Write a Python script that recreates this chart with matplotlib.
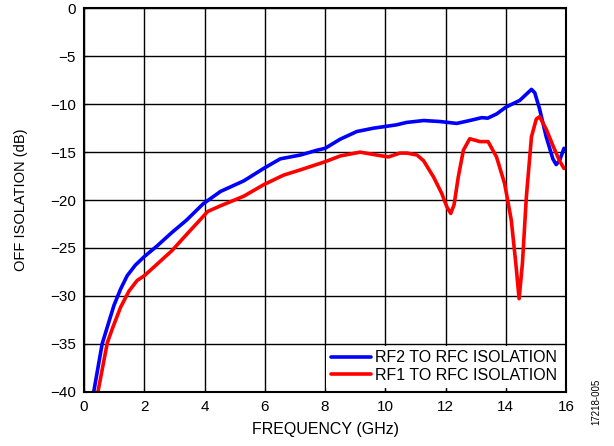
import numpy as np
import matplotlib
matplotlib.use('Agg')
import matplotlib.pyplot as plt

plt.rcParams['font.family'] = ['Liberation Sans', 'DejaVu Sans']

# RF2 -> RFC isolation (blue)
rf2Freq = [0.32, 0.6, 0.99, 1.21, 1.43, 1.7, 2.0, 2.42, 2.91, 3.4, 3.95, 4.53, 5.3, 5.96,
	6.51, 7.18, 7.73, 8.0, 8.5, 9.05, 9.6, 10.37, 10.7, 11.27, 11.8, 12.37, 12.8,
	13.2, 13.4, 13.7, 14.0, 14.46, 14.85, 14.96, 15.12, 15.34, 15.56, 15.67, 15.78, 15.93]
rf2Iso = [-40, -35.0, -31.0, -29.3, -27.9, -26.8, -25.9, -24.8, -23.4, -22.1, -20.4, -19.1, -18.0, -16.7,
	-15.7, -15.3, -14.8, -14.6, -13.65, -12.85, -12.5, -12.15, -11.9, -11.7, -11.8, -12.0, -11.7,
	-11.4, -11.45, -11.0, -10.3, -9.6, -8.45, -8.8, -10.5, -13.4, -15.7, -16.3, -15.9, -14.6]

# RF1 -> RFC isolation (red)
rf1Freq = [0.46, 0.77, 0.94, 1.21, 1.49, 1.76, 2.0, 2.42, 2.91, 3.4, 3.84, 4.1, 4.53, 5.3, 5.96,
	6.62, 7.18, 8.0, 8.5, 9.16, 9.71, 10.1, 10.48, 10.72, 11.05, 11.27, 11.6, 11.87,
	12.04, 12.17, 12.28, 12.42, 12.59, 12.8, 13.14, 13.41, 13.69, 13.96, 14.18, 14.33,
	14.44, 14.55, 14.68, 14.85, 15.01, 15.12, 15.34, 15.56, 15.78, 15.93]
rf1Iso = [-40, -34.9, -33.4, -31.2, -29.5, -28.4, -27.9, -26.7, -25.3, -23.6, -22.1, -21.2, -20.6, -19.6, -18.4,
	-17.4, -16.85, -16.0, -15.4, -15.0, -15.3, -15.5, -15.1, -15.1, -15.3, -15.9, -17.6, -19.3,
	-20.7, -21.4, -20.5, -17.6, -14.8, -13.6, -13.9, -13.9, -15.5, -18.3, -22.1, -26.6,
	-30.3, -26.6, -19.7, -13.4, -11.55, -11.3, -12.6, -14.3, -15.9, -16.7]

fig = plt.figure(figsize=(6.14, 4.46), dpi=100)
ax = fig.add_axes([0.137, 0.122, 0.785, 0.859])

ax.plot(rf2Freq, rf2Iso, color='#0000ff', lw=2.6, label='RF2 TO RFC ISOLATION', solid_capstyle='round', solid_joinstyle='round')
ax.plot(rf1Freq, rf1Iso, color='#ff0000', lw=2.6, label='RF1 TO RFC ISOLATION', solid_capstyle='round', solid_joinstyle='round')

ax.set_xlim(0, 16)
ax.set_ylim(-40, 0)
ax.set_xticks(np.arange(0, 17, 2))
ax.set_yticks(np.arange(-40, 1, 5))
ax.grid(True, color='black', lw=1.0)
ax.tick_params(direction='in', length=3, labelsize=11, colors='black', pad=6)
for sp in ax.spines.values():
	sp.set_linewidth(1.5)

ax.set_xlabel('FREQUENCY (GHz)', fontsize=11.5, labelpad=6)
ax.set_ylabel('OFF ISOLATION (dB)', fontsize=10.5, labelpad=16)

leg = ax.legend(loc='lower right', fontsize=11.5, frameon=True, fancybox=False,
	framealpha=1, edgecolor='none', borderaxespad=0.25, handlelength=2.5,
	handletextpad=0.3, labelspacing=0.15, borderpad=0.3)
leg.get_frame().set_linewidth(0)

fig.text(0.972, 0.10, '17218-005', rotation=90, fontsize=7, ha='center', va='center')

fig.savefig('out.png', dpi=100)
